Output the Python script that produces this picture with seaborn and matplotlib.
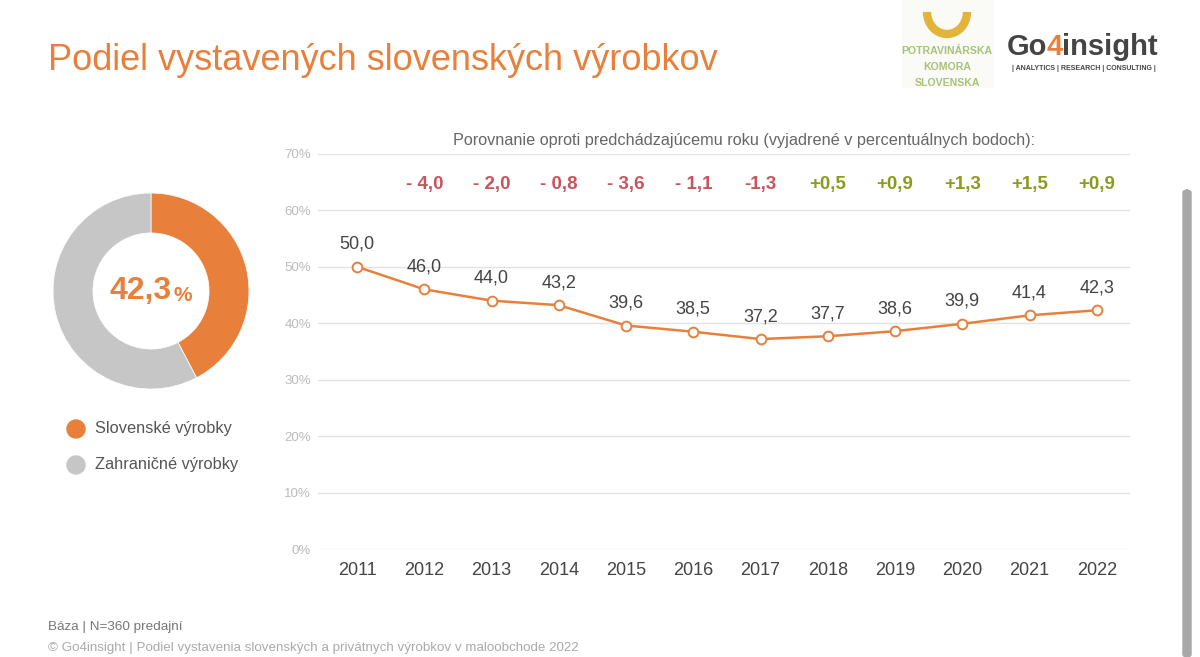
import numpy as np
import pandas as pd
import seaborn as sns
import matplotlib.pyplot as plt
from matplotlib.patches import Arc, FancyBboxPatch, Ellipse

years = ['2011', '2012', '2013', '2014', '2015', '2016', '2017', '2018', '2019', '2020', '2021', '2022']
share = [50.0, 46.0, 44.0, 43.2, 39.6, 38.5, 37.2, 37.7, 38.6, 39.9, 41.4, 42.3]
change_labels = ['- 4,0', '- 2,0', '- 0,8', '- 3,6', '- 1,1', '-1,3', '+0,5', '+0,9', '+1,3', '+1,5', '+0,9']
change_values = [-4.0, -2.0, -0.8, -3.6, -1.1, -1.3, 0.5, 0.9, 1.3, 1.5, 0.9]
donut_labels = ['Slovenské výrobky', 'Zahraničné výrobky']
donut_values = [42.3, 57.7]

ORANGE = '#E8803C'
GREY = '#C6C6C6'
RED = '#C9545C'
GREEN = '#8C9A1E'

sns.set_style('white')
plt.rcParams['font.family'] = ['Liberation Sans', 'DejaVu Sans']

fig = plt.figure(figsize=(12, 6.57), dpi=100)
fig.patch.set_facecolor('white')
W, H = 1200, 657

# main line chart
ax = fig.add_axes([0.265, 0.164, 0.677, 0.602])
df = pd.DataFrame({'year': years, 'share': share})
df['x'] = np.arange(len(years))
sns.lineplot(data=df, x='x', y='share', ax=ax, color=ORANGE, linewidth=1.8,
             marker='o', markersize=7, markerfacecolor='white',
             markeredgecolor=ORANGE, markeredgewidth=1.4)
ax.set_xlim(-0.58, 11.5)
ax.set_ylim(0, 70)
ax.set_yticks(range(0, 71, 10))
ax.set_yticklabels([f'{v}%' for v in range(0, 71, 10)], color='#BBBBBB', fontsize=9.5)
ax.set_xticks(df['x'])
ax.set_xticklabels(years, color='#444444', fontsize=13)
ax.tick_params(axis='x', length=0, pad=9)
ax.tick_params(axis='y', length=0, pad=5)
ax.grid(axis='y', color='#E3E3E3', linewidth=1)
ax.set_axisbelow(True)
for s in ax.spines.values():
    s.set_visible(False)
ax.set_xlabel('')
ax.set_ylabel('')

for x, v in zip(df['x'], share):
    ax.annotate(f'{v:.1f}'.replace('.', ','), (x, v), xytext=(0, 10),
                textcoords='offset points', ha='center', va='bottom',
                fontsize=13, color='#444444')

for i, (lab, v) in enumerate(zip(change_labels, change_values)):
    ax.text(i + 1, 64.5, lab, ha='center', va='center', fontsize=13.5,
            fontweight='bold', color=RED if v < 0 else GREEN)

fig.text(744 / W, 1 - 140 / H,
         'Porovnanie oproti predchádzajúcemu roku (vyjadrené v percentuálnych bodoch):',
         ha='center', va='center', fontsize=11.7, color='#666666')

# donut
dax = fig.add_axes([46 / W, 1 - 396 / H, 210 / W, 210 / H])
dax.pie(donut_values, colors=[ORANGE, GREY], startangle=90, counterclock=False,
        radius=0.933, wedgeprops=dict(width=0.38, edgecolor='white', linewidth=0.5))
dax.set_xlim(-1, 1)
dax.set_ylim(-1, 1)
dax.text(0.2, 0.0, '42,3', ha='right', va='center', fontsize=23,
         fontweight='bold', color=ORANGE)
dax.text(0.21, -0.04, '%', ha='left', va='center', fontsize=15,
         fontweight='bold', color=ORANGE)

# donut legend
for yy, lab, col in [(429, donut_labels[0], ORANGE), (465, donut_labels[1], GREY)]:
    fy = 1 - yy / H
    fig.add_artist(Ellipse((76 / W, fy), 18 / W, 18 / H, transform=fig.transFigure,
                           color=col))
    fig.text(95 / W, fy, lab, ha='left', va='center', fontsize=11.8, color='#555555')

# title
fig.text(48 / W, 1 - 60 / H, 'Podiel vystavených slovenských výrobkov',
         ha='left', va='center', fontsize=26, color=ORANGE)

# logos
fig.add_artist(FancyBboxPatch((902 / W, 1 - 88 / H), 92 / W, 88 / H,
                              boxstyle='square,pad=0', transform=fig.transFigure,
                              color='#FAFAF6', linewidth=0))
fig.add_artist(Arc((947 / W, 1 - 12 / H), 40 / W, 44 / H,
                   theta1=180, theta2=360, transform=fig.transFigure,
                   color='#E2B53A', linewidth=6))
for k, t in enumerate(['POTRAVINÁRSKA', 'KOMORA', 'SLOVENSKA']):
    fig.text(947 / W, 1 - (51 + 16 * k) / H, t, ha='center', va='center',
             fontsize=7.6, color='#A9C27A', fontweight='bold')

renderer = fig.canvas.get_renderer()
xpos = 1007
for part, col in [('Go', '#444444'), ('4', ORANGE), ('insight', '#444444')]:
    t = fig.text(xpos / W, 1 - 47 / H, part, ha='left', va='center', fontsize=21,
                 fontweight='bold', color=col)
    xpos += t.get_window_extent(renderer).width - 1
fig.text(1084 / W, 1 - 68 / H, '| ANALYTICS | RESEARCH | CONSULTING |',
         ha='center', va='center', fontsize=5, color='#444444', fontweight='bold')

# footer
fig.text(48 / W, 1 - 627 / H, 'Báza | N=360 predajní', ha='left', va='center',
         fontsize=9.7, color='#777777')
fig.text(48 / W, 1 - 648 / H,
         '© Go4insight | Podiel vystavenia slovenských a privátnych výrobkov v maloobchode 2022',
         ha='left', va='center', fontsize=9.6, color='#AAAAAA')

# scrollbar of the screenshot
fig.add_artist(FancyBboxPatch((1183 / W, 0), 8 / W, 1 - 190 / H,
                              boxstyle='round,pad=0,rounding_size=0.004',
                              transform=fig.transFigure, color='#A8A8A8'))

fig.savefig('out.png', dpi=100)
